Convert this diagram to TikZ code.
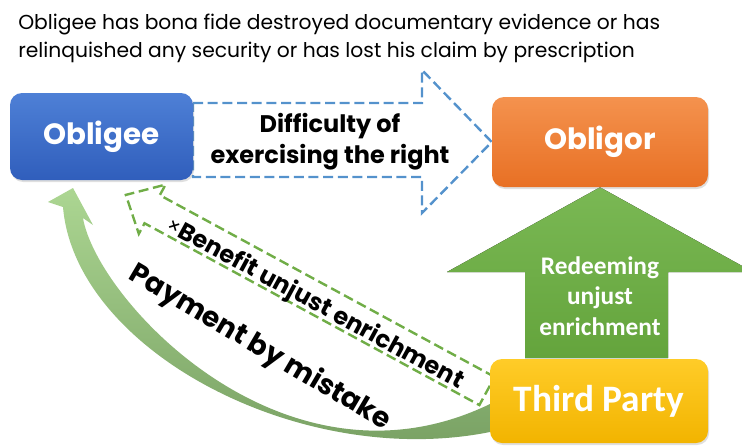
\documentclass[tikz,border=0pt]{standalone}
\usepackage{fontspec}
\setmainfont{Poppins}
\newfontfamily\calibfont{Carlito}
\usetikzlibrary{calc,positioning,shadows,backgrounds}

\definecolor{oblblueA}{RGB}{78,128,214}
\definecolor{oblblueB}{RGB}{48,94,188}
\definecolor{obgorA}{RGB}{244,146,78}
\definecolor{obgorB}{RGB}{232,112,36}
\definecolor{thirdA}{RGB}{255,204,40}
\definecolor{thirdB}{RGB}{242,180,0}
\definecolor{redA}{RGB}{122,184,84}
\definecolor{redB}{RGB}{100,164,60}
\definecolor{payA}{RGB}{172,214,146}
\definecolor{payB}{RGB}{110,150,90}
\definecolor{difblue}{RGB}{84,146,204}
\definecolor{benefitgreen}{RGB}{112,173,71}

\begin{document}
\begin{tikzpicture}[x=0.75pt,y=-0.75pt,
  party/.style={rounded corners=9pt,inner sep=0pt,text=white,
    font=\bfseries\fontsize{22}{26}\selectfont,
    drop shadow={opacity=0.25,shadow xshift=0.8pt,shadow yshift=-1.5pt}},
  dashline/.style={line width=1.8pt,dash pattern=on 7.5pt off 3.5pt},
  lbl/.style={inner sep=0pt,font=\bfseries\fontsize{18}{23}\selectfont,align=center}]
\useasboundingbox (0,0) rectangle (742,446);

% the three parties
\node[party,top color=oblblueA,bottom color=oblblueB,minimum width=137.25pt,minimum height=65.25pt] (obligee) at (101.5,136.5) {Obligee};
\node[party,top color=obgorA,bottom color=obgorB,minimum width=162pt,minimum height=67.5pt] (obligor) at (600,142) {Obligor};
\node[party,top color=thirdA,bottom color=thirdB,minimum width=163.5pt,minimum height=63pt,
  font=\calibfont\bfseries\fontsize{28}{32}\selectfont] (third) at (599,401) {Third Party};

% situation
\node[anchor=base west,inner sep=0pt,font=\fontsize{15.2}{20}\selectfont] (cond1) at (18,29)
  {Obligee has bona fide destroyed documentary evidence or has};
\node[anchor=base west,inner sep=0pt,font=\fontsize{15.2}{20}\selectfont] (cond2) at (18,57)
  {relinquished any security or has lost his claim by prescription};

% arrows
\begin{scope}[on background layer]
  \draw[dashline,difblue] (193,103) -- (422,103) -- (422,70) -- (obligor.west) -- (422,213) -- (422,177) -- (193,177) -- cycle;
  \fill[top color=redA,bottom color=redB] (525,358) -- (525,272) -- (447,272) -- (obligor.south)
    -- (753,272) -- (668,272) -- (668,358) -- cycle;
  \shade[top color=payA,bottom color=payB] (490,404) .. controls (285,503) and (97,300) .. (83,218)
    -- (93,225) -- (73,188) -- (48,202) -- (63,207) .. controls (75,350) and (300,470) .. (490,432) -- cycle;
  \begin{scope}[shift={(487,391)},rotate=151.5]
    \draw[dashline,benefitgreen] (0,16) -- (381,16) -- (381,28) -- (411,0) -- (381,-28) -- (381,-16) -- (0,-16) -- cycle;
  \end{scope}
\end{scope}

% labels
\node[lbl] (difficulty) at (330,142) {Difficulty of\\exercising the right};
\node[lbl,text=white,font=\calibfont\bfseries\fontsize{19}{23}\selectfont] (redeem) at (600,296)
  {Redeeming\\unjust\\enrichment};
\node[lbl,rotate=-28.5] (benefit) at (315,304)
  {\raisebox{0.5pt}{\mdseries\fontsize{15}{15}\selectfont ×}Benefit unjust enrichment};
\node[lbl,rotate=-30.5,font=\bfseries\fontsize{21}{26}\selectfont] (payment) at (260,348) {Payment by mistake};
\end{tikzpicture}
\end{document}
